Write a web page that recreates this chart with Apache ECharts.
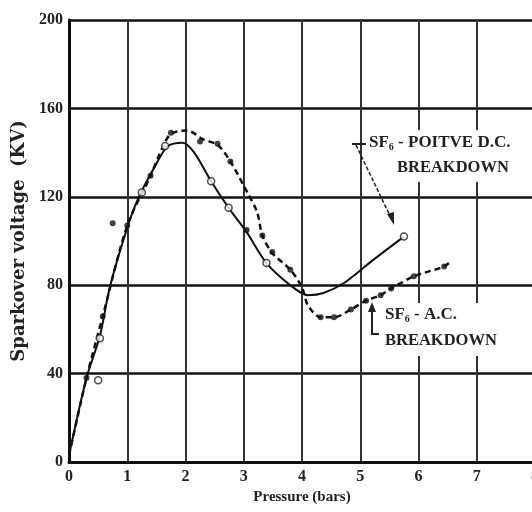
<!DOCTYPE html>
<html><head><meta charset="utf-8">
<script src="https://cdn.jsdelivr.net/npm/echarts@6/dist/echarts.min.js"></script>
<style>html,body{margin:0;padding:0;background:#fff}#c{width:532px;height:512px}</style>
</head><body><div id="c"></div>
<script>
// DC (positive) breakdown curve - solid
var dcX = [0, 0.3, 0.53, 0.7, 1.0, 1.2, 1.5, 1.7, 1.95, 2.15, 2.44, 2.74, 3.05, 3.39, 3.8, 4.1, 4.37, 4.72, 5.2, 5.75];
var dcY = [3, 38, 57, 79, 106, 120, 135, 143, 144.5, 140, 127, 115, 104, 90, 80, 75.5, 76.5, 81, 91, 102];
// AC breakdown curve - dashed
var acX = [0, 0.3, 0.58, 1.0, 1.4, 1.6, 1.75, 2.03, 2.3, 2.55, 2.77, 3.06, 3.23, 3.32, 3.49, 3.8, 4.0, 4.1, 4.32, 4.55, 4.84, 5.1, 5.35, 5.53, 5.92, 6.44, 6.56];
var acY = [3, 38, 66, 107, 129.5, 142, 148.5, 150, 146, 143.5, 136, 122, 113, 102.5, 94.5, 87, 79, 71, 65.5, 65.5, 69, 73, 75.5, 78.5, 84, 88.5, 91];
// hollow markers (DC)
var dcMarkX = [0.5, 0.53, 1.25, 1.65, 2.44, 2.74, 3.39, 5.75];
var dcMarkY = [37, 56, 122, 143, 127, 115, 90, 102];
// filled markers (AC)
var acMarkX = [0.3, 0.58, 0.75, 1.0, 1.4, 1.75, 2.25, 2.55, 2.77, 3.05, 3.32, 3.49, 3.8, 4.32, 4.55, 4.84, 5.1, 5.35, 5.53, 5.92, 6.44];
var acMarkY = [38, 66, 108, 107, 129.5, 149, 145, 144, 136, 105, 102.5, 95, 87, 65.5, 65.5, 69, 73, 75.5, 78.5, 84, 88.5];
var xTicks = [0,1,2,3,4,5,6,7,8];
var yTicks = [0,40,80,120,160,200];

function zip(a,b){return a.map(function(v,i){return [v,b[i]];});}
var font = 'Liberation Serif';
var chart = echarts.init(document.getElementById('c'), null, {renderer:'canvas'});
chart.setOption({
  animation:false,
  backgroundColor:'#fff',
  grid:{left:69, top:20, right:-3, bottom:50, containLabel:false, outerBoundsMode:'none'},
  xAxis:{type:'value', min:0, max:8, interval:1,
    name:'Pressure (bars)', nameLocation:'middle', nameGap:27,
    nameTextStyle:{fontFamily:font, fontWeight:'bold', fontSize:15, color:'#222'},
    axisLine:{lineStyle:{color:'#111', width:3}}, axisTick:{show:false},
    axisLabel:{fontFamily:font, fontWeight:'bold', fontSize:16, color:'#222', margin:7, hideOverlap:false,
      formatter:function(v){return xTicks.indexOf(v)>=0? String(v):'';}},
    splitLine:{show:true, lineStyle:{color:'#333', width:2}}},
  yAxis:{type:'value', min:0, max:200, interval:40,
    name:'Sparkover voltage  (KV)', nameLocation:'middle', nameGap:36, nameRotate:90,
    nameTextStyle:{fontFamily:'DejaVu Serif', fontWeight:'bold', fontSize:18, color:'#222'},
    axisLine:{show:true, lineStyle:{color:'#111', width:3}}, axisTick:{show:false},
    axisLabel:{fontFamily:font, fontWeight:'bold', fontSize:16, color:'#222', margin:6,
      formatter:function(v){return yTicks.indexOf(v)>=0? String(v):'';}},
    splitLine:{show:true, lineStyle:{color:'#111', width:2.5}}},
  series:[
    {type:'line', data:zip(dcX,dcY), smooth:0.3, symbol:'none', z:3,
      lineStyle:{color:'#111', width:2}},
    {type:'line', data:zip(acX,acY), smooth:0.3, symbol:'none', z:3,
      lineStyle:{color:'#111', width:2.5, type:[6,4]}},
    {type:'scatter', data:zip(dcMarkX,dcMarkY), symbol:'circle', symbolSize:7, z:4,
      itemStyle:{color:'#fff', borderColor:'#222', borderWidth:1.5}},
    {type:'scatter', data:zip(acMarkX,acMarkY), symbol:'circle', symbolSize:6, z:4,
      itemStyle:{color:'#111'}}
  ],
  graphic:[
    {type:'rect', shape:{x:367,y:130,width:152,height:52}, style:{fill:'#fff'}, z:10},
    {type:'rect', shape:{x:381,y:303,width:130,height:53}, style:{fill:'#fff'}, z:10},
    {type:'text', left:369, top:134, z:11, style:{
      text:'{a|SF}{s|6}{a| - POITVE D.C.}', rich:{
        a:{fontFamily:font, fontWeight:'bold', fontSize:17, fill:'#222'},
        s:{fontFamily:font, fontWeight:'bold', fontSize:10, fill:'#222', padding:[10,0,0,0]}}}},
    {type:'text', left:397, top:159, z:11, style:{text:'BREAKDOWN', font:'bold 16.5px "Liberation Serif"', fill:'#222'}},
    {type:'text', left:385, top:306, z:11, style:{
      text:'{a|SF}{s|6}{a| - A.C.}', rich:{
        a:{fontFamily:font, fontWeight:'bold', fontSize:17, fill:'#222'},
        s:{fontFamily:font, fontWeight:'bold', fontSize:10, fill:'#222', padding:[10,0,0,0]}}}},
    {type:'text', left:385, top:332, z:11, style:{text:'BREAKDOWN', font:'bold 16.5px "Liberation Serif"', fill:'#222'}},
    // DC arrow
    {type:'polyline', z:12, shape:{points:[[352,144],[366,144]]}, style:{stroke:'#222', lineWidth:2}},
    {type:'polyline', z:12, shape:{points:[[356,145],[392,220]]}, style:{stroke:'#222', lineWidth:1.5, lineDash:[4,2]}},
    {type:'polygon', z:12, shape:{points:[[394,225],[387,214],[394,212]]}, style:{fill:'#222'}},
    // AC arrow
    {type:'polyline', z:12, shape:{points:[[379,334],[372,334],[372,308]]}, style:{stroke:'#222', lineWidth:2}},
    {type:'polygon', z:12, shape:{points:[[372,302],[368,312],[376,312]]}, style:{fill:'#222'}}
  ]
});
</script></body></html>
